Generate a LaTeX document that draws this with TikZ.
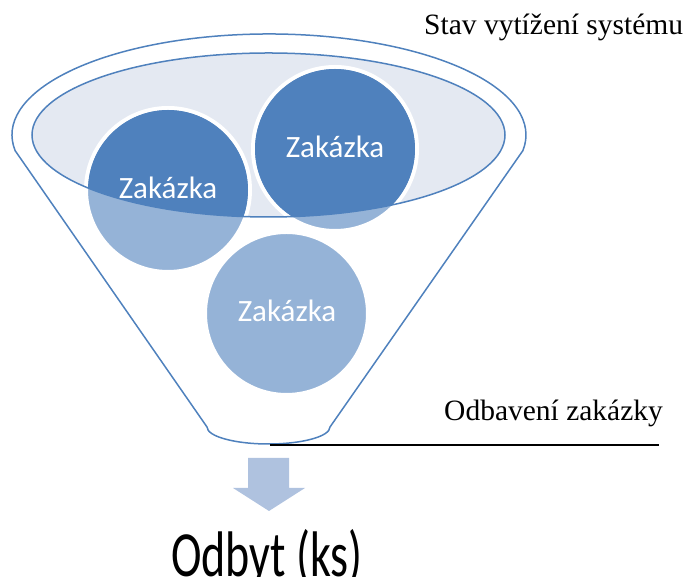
\documentclass[tikz,border=0pt]{standalone}
\usepackage{fontspec}
\setmainfont{Liberation Serif}
\newfontfamily\calibri{Carlito}
\definecolor{darkblue}{HTML}{4F81BD}
\definecolor{lightblue}{HTML}{95B3D7}
\definecolor{ellfill}{HTML}{E4E9F2}
\definecolor{arrowblue}{HTML}{AFC2DF}
\begin{document}
\begin{tikzpicture}[x=1pt,y=1pt,
  funnelline/.style={draw=darkblue, line width=1.5pt},
  orderball/.style={circle, minimum size=164pt, inner sep=0pt, fill=lightblue, draw=white, line width=4pt},
  ordertext/.style={font=\calibri\fontsize{31}{31}\selectfont, text=white, inner sep=0pt, anchor=base},
  sidetext/.style={font=\fontsize{29.5}{30}\selectfont, inner sep=0pt, anchor=base west}]
\useasboundingbox (0,0) rectangle (683,577);
% funnel outline
\draw[funnelline] (207,150) -- (15.1,426.4)
  arc[start angle=188.9, end angle=-8.9, x radius=257pt, y radius=101pt]
  -- (330,150)
  arc[start angle=0, end angle=-180, x radius=61.5pt, y radius=17pt] -- cycle;
% inner ellipse fill
\fill[ellfill] (268.5,442) ellipse[x radius=236.5pt, y radius=82pt];
% order balls
\node[orderball] (b1) at (168,387) {};
\node[orderball] (b2) at (335,428) {};
\node[orderball, minimum size=163pt] (b3) at (286.5,263.5) {};
\begin{scope}
  \clip (268.5,442) ellipse[x radius=236.5pt, y radius=82pt];
  \fill[darkblue] (b1.center) circle[radius=80pt];
  \fill[darkblue] (b2.center) circle[radius=80pt];
\end{scope}
\draw[funnelline] (268.5,442) ellipse[x radius=236.5pt, y radius=82pt];
% labels in balls
\node[ordertext] (t1) at (168,378) {Zakázka};
\node[ordertext] (t2) at (335,419) {Zakázka};
\node[ordertext] (t3) at (287,255) {Zakázka};
% side texts
\node[sidetext] (stav) at (424,542) {Stav vytížení systému};
\node[sidetext] (odb) at (444,156) {Odbavení zakázky};
\coordinate (lineA) at (270,132);
\coordinate (lineB) at (659,132);
\draw[black, line width=1.5pt] (lineA) -- (lineB);
% down arrow
\fill[arrowblue] (248,119) -- (289,119) -- (289,89) -- (305,89) -- (269,66) -- (233,89) -- (248,89) -- cycle;
\node[inner sep=0pt, anchor=base] (odbyt) at (267,0.5)
  {\scalebox{1}[1.4]{\calibri\fontsize{46}{46}\selectfont Odbyt (ks)}};
\end{tikzpicture}
\end{document}
